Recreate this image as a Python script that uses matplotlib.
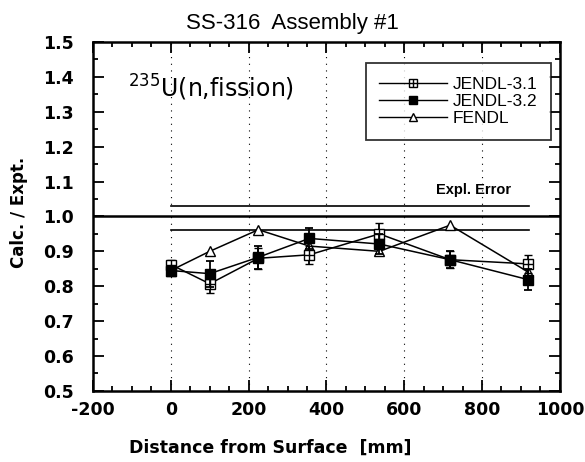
import numpy as np
import matplotlib
matplotlib.use("Agg")
import matplotlib.pyplot as plt
from matplotlib.lines import Line2D
from matplotlib.ticker import MultipleLocator

plt.rcParams['font.family'] = ['Liberation Sans', 'DejaVu Sans']
plt.rcParams['axes.unicode_minus'] = False

# positions of the detectors (mm from surface)
dist = [0, 100, 225, 356, 536, 718, 918]

# C/E values
jendl31 = [0.862, 0.807, 0.880, 0.890, 0.950, 0.876, 0.864]
jendl31_err = [0.012, 0.026, 0.030, 0.025, 0.030, 0.025, 0.025]
jendl32 = [0.845, 0.836, 0.883, 0.937, 0.921, 0.876, 0.819]
jendl32_err = [0.012, 0.037, 0.033, 0.030, 0.030, 0.025, 0.030]
fendl = [0.845, 0.900, 0.962, 0.915, 0.900, 0.975, 0.841]

# experimental error band
expl_err_x = [0, 920]
expl_err_hi = 1.031
expl_err_lo = 0.962

fig = plt.figure(figsize=(5.85, 4.62), dpi=100)
ax = fig.add_axes([0.159, 0.154, 0.798, 0.755])

# reference line and error band
ax.axhline(1.0, color='black', lw=1.8, zorder=2)
ax.plot(expl_err_x, [expl_err_hi] * 2, color='black', lw=1.2)
ax.plot(expl_err_x, [expl_err_lo] * 2, color='black', lw=1.2)
ax.text(779, 1.075, 'Expl. Error', fontsize=10.5, fontweight='bold',
        ha='center', va='center')

# dotted vertical grid lines
for gx in [0, 200, 400, 600, 800]:
    ax.axvline(gx, color='black', lw=0.8, ls=(0, (1, 5)), zorder=1)

ax.plot(dist, fendl, color='black', lw=1.1, marker='^', ms=6.5,
        mfc='white', mec='black', mew=1.0, zorder=3)
ax.errorbar(dist, jendl31, yerr=jendl31_err, color='black', lw=1.1,
            marker='s', ms=6.5, mfc='white', mec='black', mew=1.0,
            capsize=2.8, elinewidth=1.3, capthick=1.3, zorder=4)
ax.plot(dist, jendl31, ls='none', marker='+', ms=6.5, mew=1.0,
        color='black', zorder=4.5)
ax.errorbar(dist, jendl32, yerr=jendl32_err, color='black', lw=1.1,
            marker='s', ms=6.5, mfc='black', mec='black',
            capsize=2.8, elinewidth=1.3, capthick=1.3, zorder=5)

ax.text(-110, 1.369, r'$^{235}$U(n,fission)', fontsize=17,
        family='DejaVu Sans', ha='left', va='center')

ax.set_xlim(-200, 1000)
ax.set_ylim(0.5, 1.5)
ax.xaxis.set_major_locator(MultipleLocator(200))
ax.xaxis.set_minor_locator(MultipleLocator(50))
ax.set_yticks(np.arange(0.5, 1.51, 0.1))
ax.set_yticklabels([f'{v:.1f}' for v in np.arange(0.5, 1.51, 0.1)])
ax.yaxis.set_minor_locator(MultipleLocator(0.05))
ax.tick_params(which='both', direction='in', top=True, right=True,
               labelsize=12.5, width=1.3)
ax.tick_params(which='major', length=8)
ax.tick_params(which='minor', length=3.5)
ax.tick_params(axis='x', pad=7)
ax.tick_params(axis='y', pad=14)
for lab in ax.get_xticklabels() + ax.get_yticklabels():
    lab.set_fontweight('bold')
    lab.set_family('DejaVu Sans')
for sp in ax.spines.values():
    sp.set_linewidth(1.8)

fig.text((93 + 0.379 * 467) / 585, 0.030, 'Distance from Surface  [mm]',
         fontsize=12.5, fontweight='bold', family='DejaVu Sans',
         ha='center', va='center')
fig.text(0.032, 0.541, 'Calc. / Expt.', fontsize=12, fontweight='bold',
         family='DejaVu Sans', rotation=90, ha='center', va='center')
fig.text(292 / 585, 0.950, 'SS-316  Assembly #1', fontsize=16,
         ha='center', va='center')

# legend entries without the error bars, as in the original
h31 = (Line2D([], [], color='black', lw=1.0, marker='s', ms=6, mfc='white',
              mec='black', mew=1.0),
       Line2D([], [], ls='none', marker='+', ms=6, mew=1.0, color='black'))
h32 = Line2D([], [], color='black', lw=1.0, marker='s', ms=6, mfc='black')
hf = Line2D([], [], color='black', lw=1.0, marker='^', ms=6, mfc='white',
            mec='black', mew=1.0)
leg = ax.legend([h31, h32, hf], ['JENDL-3.1', 'JENDL-3.2', 'FENDL'],
                loc='upper right', bbox_to_anchor=(0.981, 0.94),
                fontsize=12.5, frameon=True, fancybox=False,
                edgecolor='black', handlelength=3.9, borderpad=0.8,
                labelspacing=0.1, handletextpad=0.3, borderaxespad=0)
leg.get_frame().set_linewidth(1.3)

fig.savefig('out.png', dpi=100)
